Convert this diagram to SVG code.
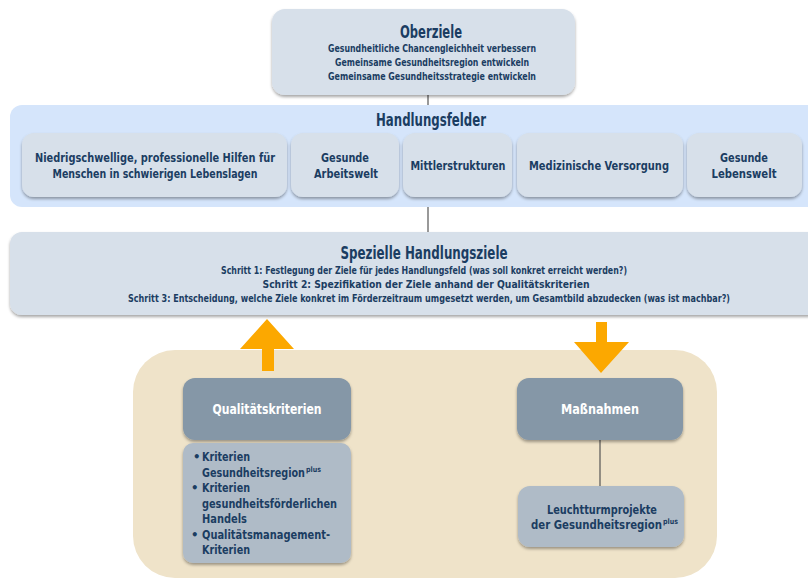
<svg xmlns="http://www.w3.org/2000/svg" width="808" height="579" viewBox="0 0 808 579">
<defs>
<filter id="sh" x="-10%" y="-10%" width="120%" height="130%">
<feDropShadow dx="0" dy="2" stdDeviation="1.5" flood-color="#000" flood-opacity="0.35"/>
</filter>
<style>
text{font-family:"DejaVu Sans Condensed","Liberation Sans Narrow","Liberation Sans",sans-serif;font-weight:bold;fill:#1b3d62;text-anchor:middle}
.t{font-size:17px}
.s{font-size:10.5px}
.m{font-size:13px}
.w{fill:#ffffff;font-size:14.5px}
.l{text-anchor:start;font-size:13px}
.p{text-anchor:start;font-size:7.5px}
.box{fill:#d7e0ea;filter:url(#sh)}
.dk{fill:#8597a7;filter:url(#sh)}
.lt{fill:#afbbc7;filter:url(#sh)}
.ln{stroke:#555;stroke-width:1.2;fill:none}
.ar{fill:#fca800}
</style>
</defs>
<rect x="133" y="350" width="584" height="228" rx="42" fill="#efe3c9"/>
<g id="connectors">
<line class="ln" x1="428" y1="95" x2="428" y2="106"/>
<line class="ln" x1="428" y1="207" x2="428" y2="232"/>
<line class="ln" x1="600" y1="440" x2="600" y2="486"/>
<polygon class="ar" points="267,319 294,349 274,349 274,371 262,371 262,349 240,349"/>
<polygon class="ar" points="596,322 607,322 607,342 629,342 601,373 574,342 596,342"/>
</g>
<g id="oberziele">
<rect class="box" x="272" y="9" width="303" height="86" rx="13"/>
<text class="t" x="431" y="38" textLength="62" lengthAdjust="spacingAndGlyphs">Oberziele</text>
<text class="s" x="432" y="52" textLength="208" lengthAdjust="spacingAndGlyphs">Gesundheitliche Chancengleichheit verbessern</text>
<text class="s" x="432" y="66" textLength="194" lengthAdjust="spacingAndGlyphs">Gemeinsame Gesundheitsregion entwickeln</text>
<text class="s" x="432" y="80" textLength="208" lengthAdjust="spacingAndGlyphs">Gemeinsame Gesundheitsstrategie entwickeln</text>
</g>
<g id="handlungsfelder">
<rect x="10" y="105" width="810" height="102" rx="12" fill="#d5e5fb"/>
<text class="t" x="431" y="126" textLength="110" lengthAdjust="spacingAndGlyphs">Handlungsfelder</text>
</g>
<g id="hf1">
<rect class="box" x="22" y="133" width="265" height="64" rx="12"/>
<text class="m" x="155" y="162" textLength="240" lengthAdjust="spacingAndGlyphs">Niedrigschwellige, professionelle Hilfen für</text>
<text class="m" x="155" y="178" textLength="205" lengthAdjust="spacingAndGlyphs">Menschen in schwierigen Lebenslagen</text>
</g>
<g id="hf2">
<rect class="box" x="291" y="133" width="108" height="64" rx="12"/>
<text class="m" x="345" y="162" textLength="48" lengthAdjust="spacingAndGlyphs">Gesunde</text>
<text class="m" x="346" y="178" textLength="64" lengthAdjust="spacingAndGlyphs">Arbeitswelt</text>
</g>
<g id="hf3">
<rect class="box" x="403" y="133" width="109" height="64" rx="12"/>
<text class="m" x="458" y="170" textLength="95" lengthAdjust="spacingAndGlyphs">Mittlerstrukturen</text>
</g>
<g id="hf4">
<rect class="box" x="517" y="133" width="166" height="64" rx="12"/>
<text class="m" x="599" y="170" textLength="140" lengthAdjust="spacingAndGlyphs">Medizinische Versorgung</text>
</g>
<g id="hf5">
<rect class="box" x="687" y="133" width="115" height="64" rx="12"/>
<text class="m" x="744" y="162" textLength="48" lengthAdjust="spacingAndGlyphs">Gesunde</text>
<text class="m" x="744" y="178" textLength="65" lengthAdjust="spacingAndGlyphs">Lebenswelt</text>
</g>
<g id="ziele">
<rect class="box" x="10" y="232" width="810" height="83" rx="12"/>
<text class="t" x="424" y="259" textLength="167" lengthAdjust="spacingAndGlyphs">Spezielle Handlungsziele</text>
<text class="s" x="424" y="274" textLength="406" lengthAdjust="spacingAndGlyphs">Schritt 1: Festlegung der Ziele für jedes Handlungsfeld (was soll konkret erreicht werden?)</text>
<text class="s" x="426" y="288" textLength="327" lengthAdjust="spacingAndGlyphs">Schritt 2: Spezifikation der Ziele anhand der Qualitätskriterien</text>
<text class="s" x="429" y="302" textLength="602" lengthAdjust="spacingAndGlyphs">Schritt 3: Entscheidung, welche Ziele konkret im Förderzeitraum umgesetzt werden, um Gesamtbild abzudecken (was ist machbar?)</text>
</g>
<g id="qualitaet">
<rect class="dk" x="183" y="378" width="168" height="62" rx="12"/>
<text class="w" x="267" y="414" textLength="109" lengthAdjust="spacingAndGlyphs">Qualitätskriterien</text>
</g>
<g id="kriterien">
<rect class="lt" x="183" y="443" width="168" height="120" rx="10"/>
<text class="l" x="193" y="461">•</text>
<text class="l" x="202" y="461" textLength="48" lengthAdjust="spacingAndGlyphs">Kriterien</text>
<text class="l" x="202" y="477" textLength="103" lengthAdjust="spacingAndGlyphs">Gesundheitsregion</text>
<text class="p" x="306" y="472" textLength="15" lengthAdjust="spacingAndGlyphs">plus</text>
<text class="l" x="191" y="492">•</text>
<text class="l" x="202" y="492" textLength="48" lengthAdjust="spacingAndGlyphs">Kriterien</text>
<text class="l" x="202" y="508" textLength="135" lengthAdjust="spacingAndGlyphs">gesundheitsförderlichen</text>
<text class="l" x="202" y="523" textLength="45" lengthAdjust="spacingAndGlyphs">Handels</text>
<text class="l" x="191" y="539">•</text>
<text class="l" x="202" y="539" textLength="128" lengthAdjust="spacingAndGlyphs">Qualitätsmanagement-</text>
<text class="l" x="202" y="554" textLength="48" lengthAdjust="spacingAndGlyphs">Kriterien</text>
</g>
<g id="massnahmen">
<rect class="dk" x="517" y="378" width="166" height="62" rx="12"/>
<text class="w" x="600" y="414" textLength="78" lengthAdjust="spacingAndGlyphs">Maßnahmen</text>
</g>
<g id="leuchtturm">
<rect class="lt" x="518" y="486" width="166" height="61" rx="12"/>
<text class="m" x="602" y="514" textLength="110" lengthAdjust="spacingAndGlyphs">Leuchtturmprojekte</text>
<text class="l" x="531" y="529" textLength="131" lengthAdjust="spacingAndGlyphs">der Gesundheitsregion</text>
<text class="p" x="663" y="524" textLength="15" lengthAdjust="spacingAndGlyphs">plus</text>
</g>
</svg>
